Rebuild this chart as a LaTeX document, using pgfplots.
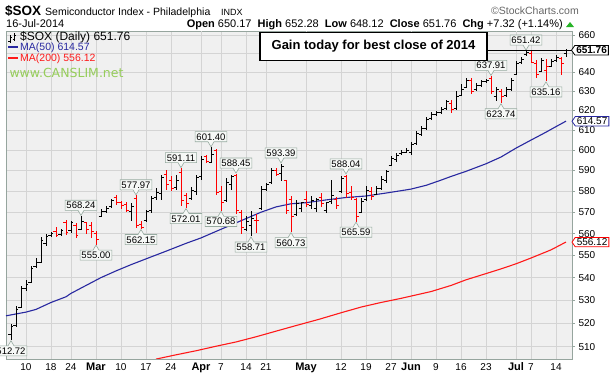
\documentclass[border=0pt]{standalone}
\usepackage{pgfplots}
\pgfplotsset{compat=1.18}
\usepackage{pgfplotstable}
\usepackage{fontspec}
\setmainfont{Liberation Sans}
\newfontfamily\dejavu{DejaVu Sans}
\usetikzlibrary{shapes.callouts,shapes.symbols}

\definecolor{bgcol}{RGB}{240,240,240}
\definecolor{gridcol}{RGB}{212,212,212}
\definecolor{monthgrid}{RGB}{180,180,180}
\definecolor{framecol}{RGB}{150,165,158}
\definecolor{ma50col}{RGB}{40,40,160}
\definecolor{ma200col}{RGB}{255,25,25}
\definecolor{barred}{RGB}{255,0,0}
\definecolor{lblfill}{RGB}{246,248,246}
\definecolor{lblborder}{RGB}{150,170,160}
\definecolor{canslim}{RGB}{150,205,90}
\definecolor{upgreen}{RGB}{40,180,40}

\pgfdeclareplotmark{otick}{\pgfpathmoveto{\pgfqpoint{-2.5pt}{0pt}}\pgfpathlineto{\pgfqpoint{0pt}{0pt}}\pgfusepathqstroke}
\pgfdeclareplotmark{ctick}{\pgfpathmoveto{\pgfqpoint{0pt}{0pt}}\pgfpathlineto{\pgfqpoint{2.5pt}{0pt}}\pgfusepathqstroke}

\pgfplotstableread{
i o h l c u
0 515 519.5 512.72 518.5 1
1 519 527.3 518.6 526 1
2 527 536.3 526.6 535 1
3 535 538.7 534.1 537 1
4 538 545 537.5 544 1
5 545 548.7 544.5 547 1
6 547 558.5 546.7 557 1
7 555.5 560 554.3 558.5 1
8 559 560.6 558.3 560 1
9 561 563 558.5 559.3 0
10 559.5 562 558.8 561.5 1
11 565 566.2 559.5 560.5 0
12 561.5 566 560.5 565 1
13 564 565 557.8 559 0
14 562 568.24 561.5 565.5 1
15 565 565.5 560 562 0
16 564 565.5 558 561 0
17 560 561 555.00 557.5 0
18 568 571.5 567.5 570.5 1
19 570.5 572.8 569.7 572 1
20 572.5 576.2 571.9 575.5 1
21 577 578.2 573.5 574.5 0
22 574.5 575.5 571.5 573 0
23 573.5 575 570 571 0
24 570.5 574.3 565.7 572.5 1
25 576.5 577.97 562.7 564 0
26 564.5 565.7 562.15 563 0
27 566 571.2 565.7 570.5 1
28 571 577.5 569.7 576.5 1
29 577 581.5 575.9 579.5 1
30 579 587.9 575.9 586.5 1
31 588 590.4 580.7 583 0
32 585 587.1 579.9 581.5 0
33 582 587.9 580.7 585 1
34 589 591.11 572.8 575.5 0
35 578 579.1 572.01 574 0
36 576.5 582 575.9 580.5 1
37 580 587.9 578.3 586.5 1
38 587 596.9 585.5 595.5 1
39 597 597.7 593.7 594.5 0
40 594 601.40 593.7 598 1
41 600 600.4 578.3 579.5 0
42 580 582.3 570.68 574.5 0
43 575.5 586.3 575 584 1
44 583 587.9 580.7 587 1
45 587.5 588.45 569.3 571 0
46 570 571.2 560 563 0
47 562 568 561.1 565.5 1
48 564 570.5 558.71 567 1
49 566 569.3 560.4 566 0
50 572 582.3 571.2 581 1
51 581 583.9 579.9 583 1
52 584 591.1 583.9 590 1
53 590 591.1 587.1 588 0
54 588.5 593.39 584.7 592 1
55 585 585.5 569.3 571 0
56 576 577.5 560.73 568 0
57 569 576 568 574 1
58 572 575 570 574.5 1
59 576 580 572.5 573.5 0
60 573 577.5 571.5 575.5 1
61 572 576.5 570 575.8 1
62 577 579 572.5 574 0
63 571 575 569.5 574.5 1
64 575 585.5 574 578 1
65 576 577 571.5 573 0
66 580 587.1 579.1 586 1
67 587 588.04 576.7 579 0
68 579.5 582.3 575.9 577 0
69 576 576.7 565.59 568 0
70 570 576.7 569.7 575 1
71 576 582.3 575.9 580.5 1
72 580 582 575.9 577.5 0
73 578.5 582.3 578.3 581.5 1
74 581.5 587.1 580.7 585.5 1
75 585 590.4 583.9 589.5 1
76 592.5 596.9 592 596 1
77 595.5 598.6 594.4 597.5 1
78 598.5 600.2 597.7 599 1
79 599 601.1 598.6 600 1
80 599 604.3 597.7 603 1
81 603.5 609.6 602.7 608.5 1
82 608 612.3 607.1 611 1
83 611 616.6 610.2 615.5 1
84 616 619.1 615.3 618 1
85 618 620 617.4 619 1
86 619 621.7 618.2 620.5 1
87 621 625.5 620.4 624.5 1
88 623.5 625.5 619 620.5 0
89 621 629.9 620.5 627 1
90 628 633.5 627.5 631 1
91 632 636.9 631.7 635.5 1
92 635.5 636.9 628.8 630 0
93 631 634.3 629.9 633 1
94 633 635.9 632.4 635 1
95 635 636.5 634 635.8 1
96 636.5 637.91 628.3 630 0
97 627 632 625 631 1
98 630 631 623.74 627 0
99 627.5 632.4 627.2 631 1
100 631 636.9 629.9 635.5 1
101 639 645.7 638.4 644.5 1
102 645 647.9 644.6 646.5 1
103 649.5 651.42 648.5 650.5 1
104 650 651 644.6 645 0
105 644.5 646.5 636.9 639 0
106 640.5 647.4 640.1 646 1
107 641 646.8 635.16 643 0
108 643 646.8 642.7 645.5 1
109 646 649.2 645.7 648 1
110 647.5 648.3 638.4 644.44 0
111 650.17 652.28 648.12 651.76 1
}\bars

\pgfplotstableread{
i v
-1 523.2
3 524.8
5 526
8 529
11 531.5
12 533
15 536.5
18 540
21 543
24 545.8
28 549.3
31 551.9
35 555.5
38 558
41 561
44 564
47 567
50 570
53 572.5
56 574
59 574.5
63 575.8
67 577
71 577.7
75 579.1
79 580.6
80 581
83 582.8
86 585.3
88 587.1
91 589.6
95 593.3
98 596.6
101 601
104 605
107 609
109 611.8
111 614.57
}\maF

\pgfplotstableread{
i v
29 504.8
33 506.6
37 508.3
41 510.2
45 512
49 514.2
53 516.6
57 519
61.6 521.7
66 524.5
70 527
74 529
78 530.8
84 533.8
88 536.5
91 539
95 541.8
98 543.9
101 546.2
104 548.8
108 552.5
111 556.12
}\maT

\tikzset{
 hilbl/.style={rectangle callout, draw=lblborder, fill=lblfill, line width=0.6pt,
   font=\fontsize{9.5}{10}\selectfont, text height=6.9pt, text depth=0pt,
   inner xsep=1.4pt, inner ysep=1.6pt, callout pointer width=6pt,
   callout relative pointer={(0pt,-5pt)}, anchor=pointer},
 lolbl/.style={hilbl, callout relative pointer={(0pt,5pt)}},
}

\begin{document}
\begin{tikzpicture}
\begin{axis}[
 at={(6pt,17pt)}, anchor=south west,
 width=566.5pt, height=328pt, scale only axis,
 xmin=-1, xmax=112.3,
 ymode=log, ymin=504.9, ymax=662.2,
 axis background/.style={fill=bgcol},
 axis line style={framecol, line width=0.8pt},
 xtick={3,8,12,22,27,32,42,47,51,66,71,76,85,90,95,104,109},
 xticklabels={10,18,24,10,17,24,7,14,21,12,19,27,9,16,23,7,14},
 extra x ticks={17,38,59,80,101},
 extra x tick labels={Mar,Apr,May,Jun,Jul},
 extra x tick style={grid style={monthgrid, line width=0.8pt},
   xticklabel style={font=\fontsize{11}{12}\selectfont\bfseries}},
 xticklabel style={font=\fontsize{10}{11}\selectfont, text height=7.5pt, text depth=0pt, inner ysep=1.5pt},
 x tick style={draw=none},
 ytick={510,520,530,540,550,560,570,580,590,600,610,620,630,640,650,660},
 yticklabels={510,520,530,540,550,560,570,580,590,600,610,620,630,640,{},660},
 yticklabel pos=right, ytick pos=right,
 y tick style={framecol, line width=0.6pt},
 tick align=outside, major tick length=2.5pt,
 yticklabel style={font=\fontsize{10}{11}\selectfont},
 grid=major, major grid style={gridcol, line width=0.6pt},
 clip mode=individual,
 /pgf/number format/assume math mode=true,
]
% moving averages
\addplot[ma200col, line width=1.1pt, mark=none] table[x=i,y=v]{\maT};
\addplot[ma50col, line width=1.1pt, mark=none] table[x=i,y=v]{\maF};
% up bars
\addplot[black, only marks, mark=otick, mark options={line width=0.9pt},
  restrict expr to domain={\thisrow{u}}{0.5:1.5},
  error bars/.cd, y dir=both, y explicit, error mark=none,
  error bar style={black, line width=0.9pt}]
  table[x=i, y=o, y error plus expr=\thisrow{h}-\thisrow{o}, y error minus expr=\thisrow{o}-\thisrow{l}]{\bars};
\addplot[black, only marks, mark=ctick, mark options={line width=0.9pt},
  restrict expr to domain={\thisrow{u}}{0.5:1.5}]
  table[x=i, y=c]{\bars};
% down bars
\addplot[barred, only marks, mark=otick, mark options={line width=0.9pt},
  restrict expr to domain={\thisrow{u}}{-0.5:0.5},
  error bars/.cd, y dir=both, y explicit, error mark=none,
  error bar style={barred, line width=0.9pt}]
  table[x=i, y=o, y error plus expr=\thisrow{h}-\thisrow{o}, y error minus expr=\thisrow{o}-\thisrow{l}]{\bars};
\addplot[barred, only marks, mark=ctick, mark options={line width=0.9pt},
  restrict expr to domain={\thisrow{u}}{-0.5:0.5}]
  table[x=i, y=c]{\bars};

% callouts
\node[hilbl] at (axis cs:14,568.24) {568.24};
\node[hilbl] at (axis cs:25,577.97) {577.97};
\node[hilbl] at (axis cs:34,591.11) {591.11};
\node[hilbl] at (axis cs:40,601.40) {601.40};
\node[hilbl] at (axis cs:45,588.45) {588.45};
\node[hilbl] at (axis cs:54,593.39) {593.39};
\node[hilbl] at (axis cs:67,588.04) {588.04};
\node[hilbl] at (axis cs:96,637.91) {637.91};
\node[hilbl] at (axis cs:103,651.42) {651.42};
\node[lolbl] at (axis cs:0,512.72) {512.72};
\node[lolbl] at (axis cs:17,555.00) {555.00};
\node[lolbl] at (axis cs:26,562.15) {562.15};
\node[lolbl] at (axis cs:35,572.01) {572.01};
\node[lolbl] at (axis cs:42,570.68) {570.68};
\node[lolbl] at (axis cs:48,558.71) {558.71};
\node[lolbl] at (axis cs:56,560.73) {560.73};
\node[lolbl] at (axis cs:69,565.59) {565.59};
\node[lolbl] at (axis cs:98,623.74) {623.74};
\node[lolbl] at (axis cs:107,635.16) {635.16};

\coordinate (r1) at (axis cs:112.3,651.76);
\coordinate (r2) at (axis cs:112.3,614.57);
\coordinate (r3) at (axis cs:112.3,556.12);
\coordinate (gl) at (axis cs:112.3,651.42);
\end{axis}

% gain line and box
\draw[black, line width=0.9pt] (gl) -- ++(-86pt,0pt);
\node[draw=black, line width=1.4pt, fill=white, minimum width=227pt, minimum height=28pt, inner sep=0pt,
  font=\fontsize{13}{14}\selectfont\bfseries] at (373.5pt,329.5pt) {Gain today for best close of 2014};

% right value boxes
\node[signal, signal to=west, signal pointer angle=110, draw=black, fill=white, line width=0.8pt,
  font=\fontsize{10}{11}\selectfont\bfseries, text height=7pt, text depth=0pt, inner xsep=1.5pt, inner ysep=1.2pt, anchor=west] at ([xshift=-1.5pt]r1) {651.76};
\node[signal, signal to=west, signal pointer angle=110, draw=ma50col, fill=white, line width=0.8pt,
  font=\fontsize{10}{11}\selectfont, text height=7pt, text depth=0pt, inner xsep=1.5pt, inner ysep=1.2pt, anchor=west] at ([xshift=-1pt]r2) {614.57};
\node[signal, signal to=west, signal pointer angle=110, draw=barred, fill=white, line width=0.8pt,
  font=\fontsize{10}{11}\selectfont, text height=7pt, text depth=0pt, inner xsep=1.5pt, inner ysep=1.2pt, anchor=west] at ([xshift=-1pt]r3) {556.12};

% titles
\node[anchor=base west, inner sep=0pt, font=\fontsize{13.5}{14}\selectfont\bfseries] at (5pt,360.5pt) {\$SOX};
\node[anchor=base west, inner sep=0pt, font=\fontsize{10.5}{12}\selectfont] at (45pt,360.5pt) {Semiconductor Index - Philadelphia};
\node[anchor=base west, inner sep=0pt, font=\fontsize{9}{10}\selectfont] at (221pt,360.5pt) {INDX};
\node[anchor=base east, inner sep=0pt, font=\fontsize{10.5}{11}\selectfont, text=black!60] at (579pt,361pt) {\textcopyright StockCharts.com};
\node[anchor=base west, inner sep=0pt, font=\fontsize{11}{12}\selectfont] at (6pt,348.5pt) {16-Jul-2014};
\node[anchor=base east, inner sep=0pt, font=\fontsize{11}{12}\selectfont] at (563pt,348.5pt)
  {\textbf{Open} 650.17\ \ \textbf{High} 652.28\ \ \textbf{Low} 648.12\ \ \textbf{Close} 651.76\ \ \textbf{Chg} +7.32 (+1.14\%)};
\fill[upgreen] (566pt,349pt) -- (574pt,349pt) -- (570pt,354pt) -- cycle;

% legend inside plot
\draw[black, line width=0.7pt] (10pt,333pt) -- (10pt,341pt) (8.3pt,335pt) -- (10pt,335pt) (10pt,339pt) -- (11.7pt,339pt);
\draw[black, line width=0.7pt] (14.5pt,335pt) -- (14.5pt,343pt) (12.8pt,337pt) -- (14.5pt,337pt) (14.5pt,341pt) -- (16.2pt,341pt);
\node[anchor=base west, inner sep=0pt, font=\fontsize{12}{13}\selectfont] at (20pt,335.5pt) {\$SOX (Daily) 651.76};
\draw[ma50col, line width=2pt] (8pt,329pt) -- (18pt,329pt);
\node[anchor=base west, inner sep=0pt, font=\fontsize{10.5}{11}\selectfont, text=ma50col] at (20pt,325.5pt) {MA(50) 614.57};
\draw[ma200col, line width=2pt] (8pt,318pt) -- (18pt,318pt);
\node[anchor=base west, inner sep=0pt, font=\fontsize{10.5}{11}\selectfont, text=ma200col] at (20pt,314.5pt) {MA(200) 556.12};
\node[anchor=base west, inner sep=0pt, font=\dejavu\fontsize{12.5}{13}\selectfont, text=canslim] at (9.3pt,298.7pt) {www.CANSLIM.net};

\pgfresetboundingbox
\path[use as bounding box] (0pt,0pt) rectangle (611pt,376pt);
\end{tikzpicture}
\end{document}
